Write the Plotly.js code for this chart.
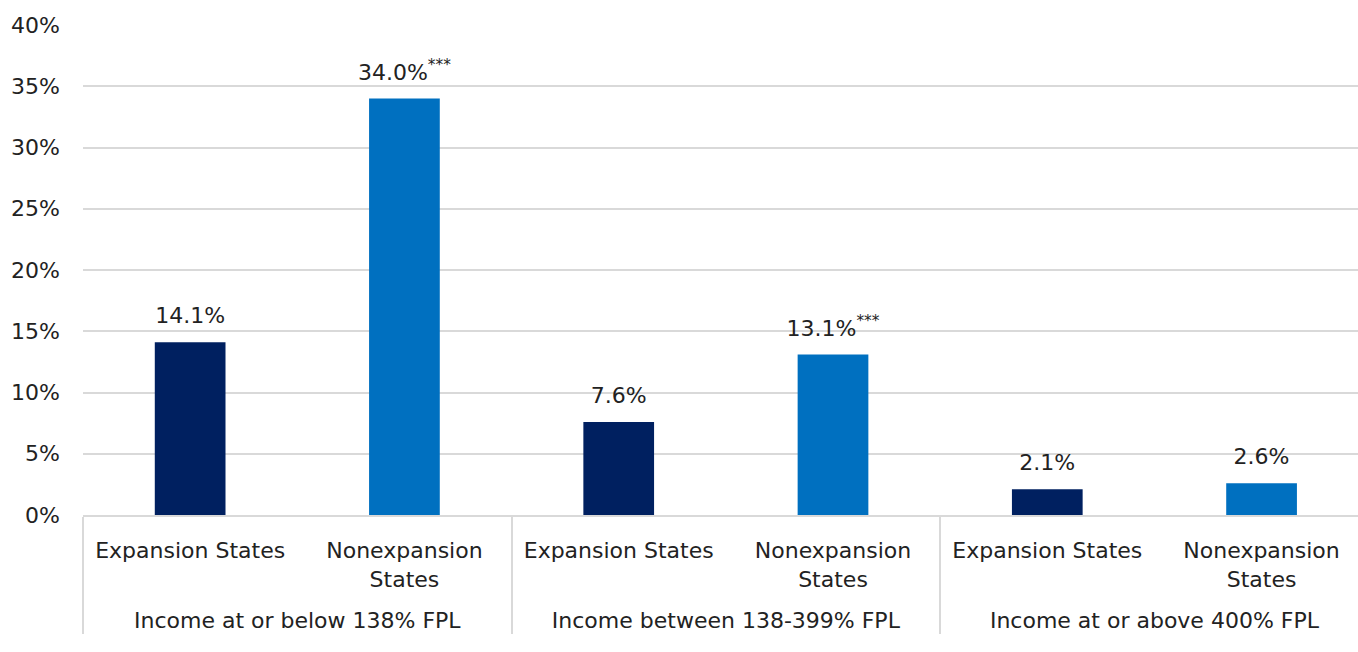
<!DOCTYPE html>
<html>
<head>
<meta charset="utf-8">
<script src="https://cdn.plot.ly/plotly-3.0.1.min.js"></script>
<style>html,body{margin:0;padding:0;background:#fff;}#chart{width:1358px;height:652px;}</style>
</head>
<body>
<div id="chart"></div>
<script>
const groups = ["Income at or below 138% FPL", "Income between 138-399% FPL", "Income at or above 400% FPL"];
const states = ["Expansion States", "Nonexpansion<br>States"];
const expansionValues = [14.1, 7.6, 2.1];
const nonexpansionValues = [34.0, 13.1, 2.6];
const significance = ["***", "***", ""];
const yTicks = [0, 5, 10, 15, 20, 25, 30, 35, 40];

const FONT = "DejaVu Sans, sans-serif";
const FS = 22;
const xOuter = [], xInner = [], yVals = [], texts = [], colors = [];
groups.forEach((g, i) => {
  const og = "<br>" + g;
  xOuter.push(og); xInner.push(states[0]); yVals.push(expansionValues[i]);
  texts.push(expansionValues[i].toFixed(1) + "%"); colors.push("#002060");
  xOuter.push(og); xInner.push(states[1]); yVals.push(nonexpansionValues[i]);
  texts.push(nonexpansionValues[i].toFixed(1) + "%" + (significance[i] ? "<sup>" + significance[i] + "</sup>" : ""));
  colors.push("#0070C0");
});

const bars = {
  type: "bar",
  x: [xOuter, xInner],
  y: yVals,
  marker: {color: colors},
  width: 0.33,
  hoverinfo: "none"
};
const labels = {
  type: "scatter",
  mode: "markers+text",
  x: [xOuter, xInner],
  y: yVals,
  text: texts,
  textposition: "top center",
  textfont: {family: FONT, size: FS, color: "#222"},
  marker: {size: 20, color: "rgba(0,0,0,0)"},
  cliponaxis: false,
  hoverinfo: "none"
};

const layout = {
  width: 1358, height: 652,
  margin: {l: 83, r: 0, t: 25, b: 137},
  paper_bgcolor: "#fff", plot_bgcolor: "#fff",
  font: {family: FONT, size: FS, color: "#222"},
  showlegend: false,
  xaxis: {
    type: "multicategory",
    range: [-0.5, 5.45],
    showline: true, linecolor: "#d9d9d9", linewidth: 2,
    showdividers: true, dividercolor: "#d9d9d9", dividerwidth: 2,
    ticklabelstandoff: 15,
    tickfont: {family: FONT, size: FS, color: "#222"},
    ticks: "", showgrid: false, zeroline: false
  },
  yaxis: {
    range: [0, 40],
    tickvals: yTicks,
    ticktext: yTicks.map(v => v + "%"),
    showgrid: true, gridcolor: "#d9d9d9", gridwidth: 2,
    zeroline: false, showline: false,
    ticklabelstandoff: 22,
    tickfont: {family: FONT, size: FS, color: "#222"}
  }
};

Plotly.newPlot("chart", [bars, labels], layout, {displayModeBar: false, staticPlot: true});
</script>
</body>
</html>
